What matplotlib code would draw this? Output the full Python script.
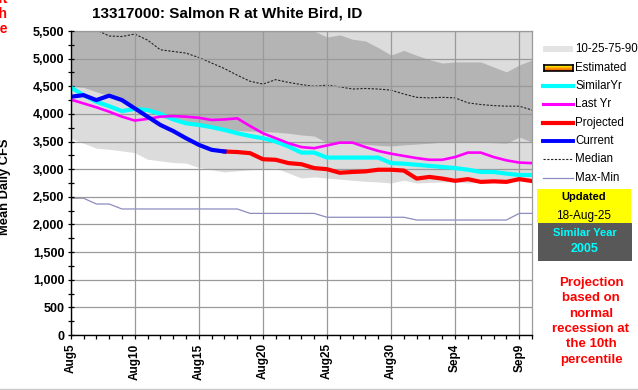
import numpy as np
import pandas as pd
import matplotlib
matplotlib.use("Agg")
import matplotlib.pyplot as plt
from matplotlib.lines import Line2D
from matplotlib.patches import Rectangle
from matplotlib.ticker import MultipleLocator, FuncFormatter

plt.rcParams['font.family'] = ['Liberation Sans', 'DejaVu Sans']

# ---------------- data ----------------
dates = pd.date_range('2025-08-05', '2025-09-10', freq='D')
day_labels = [f"{d.strftime('%b')}{d.day}" for d in dates]

p90 = [6500] * 37
p75 = [6000, 5980, 5950, 5920, 5900, 5880, 5860, 5840, 5820, 5800,
       5780, 5760, 5740, 5720, 5700, 5660, 5620, 5580, 5540, 5500,
       5390, 5430, 5350, 5320, 5200, 5065, 5150, 5060, 4980, 4920,
       4940, 4940, 4940, 4850, 4760, 4885, 4975]
p25 = [4500, 4480, 4400, 4330, 4250, 4150, 4050, 3950, 3880, 3820,
       3780, 3750, 3720, 3700, 3690, 3680, 3670, 3650, 3620, 3600,
       3480, 3470, 3470, 3450, 3430, 3420, 3440, 3455, 3470, 3490,
       3490, 3490, 3490, 3480, 3470, 3580, 3490]
p10 = [3560, 3470, 3380, 3360, 3330, 3300, 3180, 3150, 3120, 3110,
       3030, 2990, 2950, 2970, 2990, 3000, 3020, 2930, 2840, 2860,
       2840, 2820, 2800, 2780, 2770, 2750, 2800, 2750, 2760, 2770,
       2770, 2750, 2760, 2770, 2770, 2790, 2820]
median = [5700, 5600, 5520, 5410, 5400, 5445, 5335, 5160, 5130, 5100,
          5020, 4920, 4820, 4700, 4590, 4540, 4620, 4570, 4530, 4500,
          4520, 4490, 4450, 4460, 4450, 4430, 4360, 4300, 4290, 4300,
          4290, 4200, 4170, 4150, 4140, 4140, 4070]
min_flow = [2475, 2475, 2370, 2370, 2280, 2280, 2280, 2280, 2280, 2280,
            2280, 2280, 2280, 2280, 2200, 2200, 2200, 2200, 2200, 2200,
            2130, 2130, 2130, 2130, 2130, 2130, 2130, 2080, 2080, 2080,
            2080, 2080, 2080, 2080, 2080, 2200, 2200]
max_flow = [9000] * 37
similar_yr = [4480, 4340, 4220, 4140, 4050, 4090, 4070, 4000, 3900, 3830,
              3800, 3760, 3710, 3650, 3600, 3560, 3500, 3410, 3300, 3300,
              3210, 3210, 3210, 3210, 3210, 3110, 3100, 3080, 3060, 3040,
              3020, 2990, 2950, 2950, 2920, 2895, 2895]
last_yr = [4260, 4190, 4120, 4040, 3950, 3880, 3910, 3950, 3960, 3950,
           3930, 3890, 3900, 3920, 3780, 3650, 3560, 3470, 3400, 3380,
           3430, 3480, 3480, 3400, 3330, 3280, 3240, 3200, 3170, 3170,
           3220, 3300, 3300, 3220, 3160, 3120, 3110]
current = [4310, 4340, 4250, 4330, 4250, 4100, 3950, 3800, 3690, 3560,
           3440, 3350, 3320]
projected = [3320, 3310, 3290, 3180, 3170, 3110, 3090, 3020, 3000, 2935,
             2950, 2960, 2990, 2990, 2975, 2830, 2860, 2830, 2790, 2820,
             2770, 2780, 2770, 2820, 2785]

x = np.arange(len(dates))
x_cur = x[:len(current)]
x_proj = x[len(current) - 1:len(current) - 1 + len(projected)]

# ---------------- figure ----------------
W, H = 638, 390
fig = plt.figure(figsize=(W / 100, H / 100), dpi=100)
fig.patch.set_facecolor('white')

def fx(px):
    return px / W

def fy(py):
    return 1 - py / H

ax = fig.add_axes([fx(70.7), fy(335), fx(532) - fx(70.7), fy(31) - fy(335)])
ax.set_facecolor('white')

light = '#dcdcdc'
dark = '#b4b4b4'
ax.fill_between(x, p10, p90, color=light, lw=0, zorder=1)
ax.fill_between(x, p25, p75, color=dark, lw=0, zorder=1.1)

ax.set_xlim(0, 36)
ax.set_ylim(0, 5500)
ax.yaxis.set_major_locator(MultipleLocator(500))
ax.yaxis.set_minor_locator(MultipleLocator(250))
ax.xaxis.set_major_locator(MultipleLocator(5))
ax.xaxis.set_minor_locator(MultipleLocator(1))
ax.grid(True, which='major', color='#9a9a9a', lw=0.9, zorder=1.5)
ax.set_axisbelow(False)

ax.plot(x, min_flow, color='#8c8cc0', lw=0.9, zorder=2)
ax.plot(x, max_flow, color='#8c8cc0', lw=0.9, zorder=2)
ax.plot(x, median, color='#222222', lw=0.8, ls=(0, (2.0, 1.4)), zorder=2.2)
ax.plot(x, similar_yr, color='#00ffff', lw=3.0, zorder=3, solid_joinstyle='round')
ax.plot(x, last_yr, color='#ff00ff', lw=1.9, zorder=3.1, solid_joinstyle='round')
ax.plot(x_proj, projected, color='#ff0000', lw=3.0, zorder=3.2, solid_joinstyle='round')
ax.plot(x_cur, current, color='#0000ff', lw=3.0, zorder=3.3, solid_joinstyle='round')

ax.yaxis.set_major_formatter(FuncFormatter(lambda v, p: f"{int(v):,}"))
ax.set_xticks(x[::5])
ax.set_xticklabels(day_labels[::5], rotation=90, fontsize=8.5, fontweight='bold')
for lab in ax.get_yticklabels():
    lab.set_fontweight('bold')
ax.tick_params(axis='y', which='both', direction='inout', length=5, width=0.9,
               labelsize=9, pad=2)
ax.tick_params(axis='y', which='minor', length=4)
ax.tick_params(axis='x', which='both', direction='out', length=3, width=0.9, pad=3)

for s in ['left', 'bottom']:
    ax.spines[s].set_color('black')
    ax.spines[s].set_linewidth(1.0)
    ax.spines[s].set_zorder(5)
for s in ['top', 'right']:
    ax.spines[s].set_color('#9a9a9a')
    ax.spines[s].set_linewidth(0.9)

# ---------------- texts ----------------
fig.text(fx(227), fy(14), "13317000: Salmon R at White Bird, ID", ha='center', va='center',
         fontsize=11, fontweight='bold')
fig.text(fx(5.5), fy(187), "Mean Daily CFS", rotation=90, ha='center', va='center',
         fontsize=9.3, fontweight='bold')
for yb, t in zip([3, 18, 33], ["Draft", "Graph", "Range"]):
    fig.text(fx(7.5), fy(yb), t, ha='right', va='baseline', color='#ff0000',
             fontsize=10, fontweight='bold')

# legend
lx0, lx1, tx = 543, 573, 575
rows = [49, 68, 86, 104, 123, 141, 159, 178]
names = ["10-25-75-90", "Estimated", "SimilarYr", "Last Yr", "Projected",
         "Current", "Median", "Max-Min"]
for yy, nm in zip(rows, names):
    fig.text(fx(tx), fy(yy), nm, ha='left', va='center', fontsize=8.3)
fig.add_artist(Rectangle((fx(lx0), fy(rows[0] + 3)), fx(lx1) - fx(lx0), fy(rows[0] - 3) - fy(rows[0] + 3),
                         transform=fig.transFigure, facecolor='#e4e4e4', edgecolor='none'))
gax = fig.add_axes([fx(lx0 + 1), fy(rows[1] + 3), fx(lx1) - fx(lx0 + 1), fy(rows[1] - 3) - fy(rows[1] + 3)])
grad = np.array([[1.0, 1.0, 0.0], [1.0, 0.75, 0.0], [1.0, 0.55, 0.0], [0.95, 0.35, 0.0]])[:, None, :]
gax.imshow(grad, aspect='auto', interpolation='bilinear')
gax.set_xticks([]); gax.set_yticks([])
for s in gax.spines.values():
    s.set_color('black'); s.set_linewidth(1.2)
line_specs = [
    (rows[2], '#00ffff', 3.0, '-'),
    (rows[3], '#ff00ff', 2.2, '-'),
    (rows[4], '#ff0000', 3.0, '-'),
    (rows[5], '#0000ff', 2.8, '-'),
    (rows[6], '#222222', 0.8, (0, (2.0, 1.4))),
    (rows[7], '#8c8cc0', 0.9, '-'),
]
for yy, c, lw, ls in line_specs:
    fig.add_artist(Line2D([fx(lx0), fx(lx1)], [fy(yy), fy(yy)], color=c, lw=lw, ls=ls,
                          transform=fig.transFigure))

# updated box
fig.add_artist(Rectangle((fx(537), fy(223)), fx(631) - fx(537), fy(189) - fy(223),
                         transform=fig.transFigure, facecolor='#ffff00', edgecolor='none'))
fig.add_artist(Rectangle((fx(538), fy(261)), fx(632) - fx(538), fy(223) - fy(261),
                         transform=fig.transFigure, facecolor='#585858', edgecolor='none'))
fig.text(fx(584), fy(197), "Updated", ha='center', va='center', fontsize=8, fontweight='bold')
fig.text(fx(584), fy(216), "18-Aug-25", ha='center', va='center', fontsize=8.5)
fig.text(fx(585), fy(233), "Similar Year", ha='center', va='center', fontsize=8,
         fontweight='bold', color='#00ffff')
fig.text(fx(585), fy(249), "2005", ha='center', va='center', fontsize=9,
         fontweight='bold', color='#00ffff')

proj_lines = ["Projection", "based on", "normal", "recession at", "the 10th", "percentile"]
for i, t in enumerate(proj_lines):
    fig.text(fx(591), fy(283 + i * 15.3), t, ha='center', va='center', fontsize=9.5,
             fontweight='bold', color='#ff0000')

fig.add_artist(Line2D([0, 1], [fy(389), fy(389)], color='#c8c8c8', lw=1.0,
                      transform=fig.transFigure))

fig.savefig('out.png', dpi=100, facecolor='white')
